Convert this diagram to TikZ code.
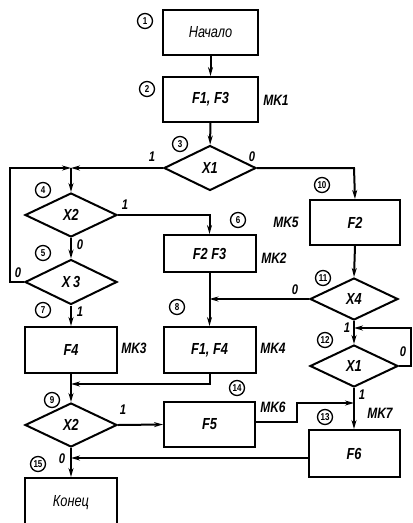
\documentclass[tikz,border=0pt]{standalone}
\usepackage{fontspec}
\setmainfont{Liberation Sans}[FakeStretch=0.8]
\usetikzlibrary{shapes.geometric,arrows.meta}
\begin{document}
\begin{tikzpicture}[x=1pt,y=-1pt,
  line width=2pt,
  every node/.style={font=\itshape},
  >={Stealth[length=9pt,width=5pt]},
  box/.style={draw,rectangle,line width=2pt,inner sep=0pt,font=\fontsize{16}{18}\selectfont\bfseries\itshape},
  dia/.style={draw,diamond,aspect=2,inner sep=0pt,line width=2pt,font=\fontsize{16}{18}\selectfont\bfseries\itshape},
  num/.style={draw,circle,line width=1.3pt,inner sep=0pt,minimum size=15pt,font=\fontsize{10}{11}\selectfont\bfseries},
  mk/.style={font=\fontsize{15}{17}\selectfont\bfseries\itshape},
  bit/.style={font=\fontsize{14}{16}\selectfont\bfseries\itshape}]
\useasboundingbox[fill=white] (0,0) rectangle (413,523);
% nodes
\node[box,minimum width=95pt,minimum height=45pt] (start) at (210.5,32.5) {\mdseries Начало};
\node[box,minimum width=95pt,minimum height=45pt] (f13) at (210.5,99.5) {F1, F3};
\node[dia,minimum width=92pt,minimum height=45pt] (x1) at (210,168) {X1};
\node[dia,minimum width=92pt,minimum height=44pt] (x2a) at (71,215) {X2};
\node[dia,minimum width=92pt,minimum height=45pt] (x3) at (71,282) {X\,3};
\node[box,minimum width=92pt,minimum height=46pt] (f4) at (71,350) {F4};
\node[dia,minimum width=92pt,minimum height=44pt] (x2b) at (71,425) {X2};
\node[box,minimum width=92pt,minimum height=50pt] (end) at (71,503) {\mdseries Конец};
\node[box,minimum width=92pt,minimum height=37pt] (f23) at (209.5,253.5) {F2 F3};
\node[box,minimum width=92pt,minimum height=46pt] (f14) at (209.5,350) {F1, F4};
\node[box,minimum width=91pt,minimum height=45pt] (f5) at (209.5,424.5) {F5};
\node[box,minimum width=90pt,minimum height=45pt] (f2) at (355,222.5) {F2};
\node[dia,minimum width=88pt,minimum height=42pt] (x4) at (354,299) {X4};
\node[dia,minimum width=88pt,minimum height=42pt] (x1b) at (354,366) {X1};
\node[box,minimum width=91pt,minimum height=47pt] (f6) at (354,453.5) {F6};
% junction coordinates
\coordinate (j1) at (71,168);
\coordinate (j2) at (10,168);
\coordinate (j3) at (10,282);
\coordinate (j4) at (209.5,215);
\coordinate (j5) at (354,168);
\coordinate (j6) at (209.5,299);
\coordinate (j7) at (411,366);
\coordinate (j8) at (411,328);
\coordinate (j9) at (354,328);
\coordinate (j10) at (297,422);
\coordinate (j11) at (297,403);
\coordinate (j12) at (354,403);
\coordinate (j13) at (209.5,384);
\coordinate (j14) at (71,384);
\coordinate (j15) at (71,458);
% connectors
\draw[->] (start) -- (f13);
\draw[->] (f13) -- (x1);
\draw[->] (x1.west) -- (j1);
\draw[->] (x3.west) -- (j3) -- (j2) -- (j1);
\draw[->] (j1) -- (x2a.north);
\draw[->] (x2a.east) -- (j4) -- (f23.north);
\draw[->] (x2a.south) -- (x3.north);
\draw[->] (x3.south) -- (f4.north);
\draw[->] (f23.south) -- (f14.north);
\draw[->] (x1.east) -- (j5) -- (f2.north);
\draw[->] (f2.south) -- (x4.north);
\draw[->] (x4.west) -- (j6);
\draw[->] (x4.south) -- (x1b.north);
\draw[->] (x1b.east) -- (j7) -- (j8) -- (j9);
\draw[->] (x1b.south) -- (f6.north);
\draw[->] (f5.east |- j10) -- (j10) -- (j11) -- (j12);
\draw[->] (f4.south) -- (x2b.north);
\draw[->] (f14.south) -- (j13) -- (j14);
\draw[->] (x2b.east) -- (f5.west);
\draw[->] (x2b.south) -- (end.north);
\draw[->] (f6.west |- j15) -- (j15);
% MK labels
\node[mk] (mk1) at (276,100) {MK1};
\node[mk] (mk2) at (274,258) {MK2};
\node[mk] (mk3) at (134,348) {MK3};
\node[mk] (mk4) at (273,348) {MK4};
\node[mk] (mk5) at (286,222) {MK5};
\node[mk] (mk6) at (273,407) {MK6};
\node[mk] (mk7) at (380,413) {MK7};
% branch labels
\node[bit] (b1) at (152,157) {1};
\node[bit] (b2) at (252,157) {0};
\node[bit] (b3) at (125,205) {1};
\node[bit] (b4) at (80,245) {0};
\node[bit] (b5) at (18,273) {0};
\node[bit] (b6) at (80,312) {1};
\node[bit] (b7) at (295,290) {0};
\node[bit] (b8) at (347,328) {1};
\node[bit] (b9) at (403,352) {0};
\node[bit] (b10) at (362,395) {1};
\node[bit] (b11) at (123,410) {1};
\node[bit] (b12) at (62,459) {0};
% circled numbers
\node[num] (n1) at (145,21) {1};
\node[num] (n2) at (147,89) {2};
\node[num] (n3) at (180,144) {3};
\node[num] (n4) at (43,190) {4};
\node[num] (n5) at (43,253) {5};
\node[num] (n6) at (238,220) {6};
\node[num] (n7) at (43,310) {7};
\node[num] (n8) at (177,307) {8};
\node[num] (n9) at (52,400) {9};
\node[num] (n10) at (322,185) {10};
\node[num] (n11) at (323,278) {11};
\node[num] (n12) at (325,340) {12};
\node[num] (n13) at (325,417) {13};
\node[num] (n14) at (237,388) {14};
\node[num] (n15) at (38,464) {15};
\end{tikzpicture}
\end{document}
